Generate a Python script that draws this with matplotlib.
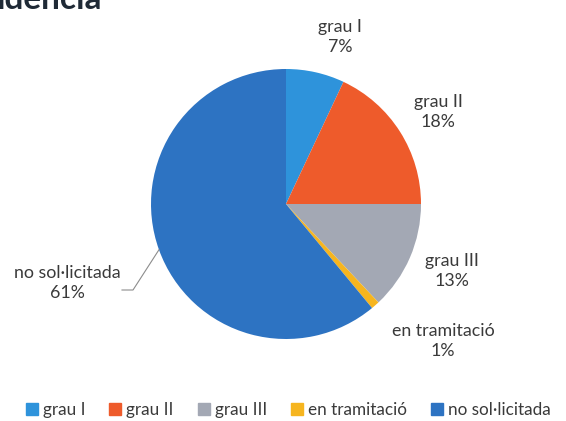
import numpy as np
import matplotlib
matplotlib.use("Agg")
import matplotlib.pyplot as plt
from matplotlib.lines import Line2D

categories = ["grau I", "grau II", "grau III", "en tramitació", "no sol·licitada"]
values = [7, 18, 13, 1, 61]
labels_text = ["grau I\n7%", "grau II\n18%", "grau III\n13%", "en tramitació\n1%", "no sol·licitada\n61%"]
colors = ["#2E93DB", "#EE5B2B", "#A3A8B4", "#F6B51F", "#2D73C2"]

plt.rcParams["font.family"] = ["Lato", "DejaVu Sans"]
text_color = "#3A3A3A"

W, H = 566, 421
fig = plt.figure(figsize=(W / 100, H / 100), dpi=100)
ax = fig.add_axes([0, 0, 1, 1])

cx, cy, r = 286, H - 204, 135
wedges, _ = ax.pie(values, colors=colors, startangle=90, counterclock=False,
                   center=(cx, cy), radius=r, frame=True,
                   wedgeprops=dict(linewidth=0))
ax.set_xlim(0, W)
ax.set_ylim(0, H)
ax.set_aspect("equal")
ax.axis("off")

# label positions (pixel space)
label_xy = [(340, 37), (438, 112), (452, 271), (443, 341), (67, 283)]
for (lx, ly), t in zip(label_xy, labels_text):
    ax.text(lx, H - ly, t, ha="center", va="center", fontsize=12.8,
            color=text_color, linespacing=1.3)

# leader line for the big slice
w = wedges[4]
mid = np.deg2rad((w.theta1 + w.theta2) / 2)
ex, ey = cx + r * np.cos(mid), cy + r * np.sin(mid)
ax.plot([122, 133, ex], [H - 290, H - 290, ey], color="#8C8C8C", lw=0.8)

# cropped title at the top
fig.text(-0.006, 1 - 9 / H, "idencia", fontsize=24, weight="bold",
         color="#1F2A36", va="baseline", ha="left")

handles = [Line2D([], [], marker="s", ls="", markersize=9, color=c) for c in colors]
fig.legend(handles, categories, loc="center", bbox_to_anchor=(0.51, 1 - 410 / H),
           ncol=5, frameon=False, handlelength=0.6, handletextpad=0.35,
           columnspacing=1.45, fontsize=12.3, labelcolor=text_color)

fig.savefig("out.png", dpi=100)
